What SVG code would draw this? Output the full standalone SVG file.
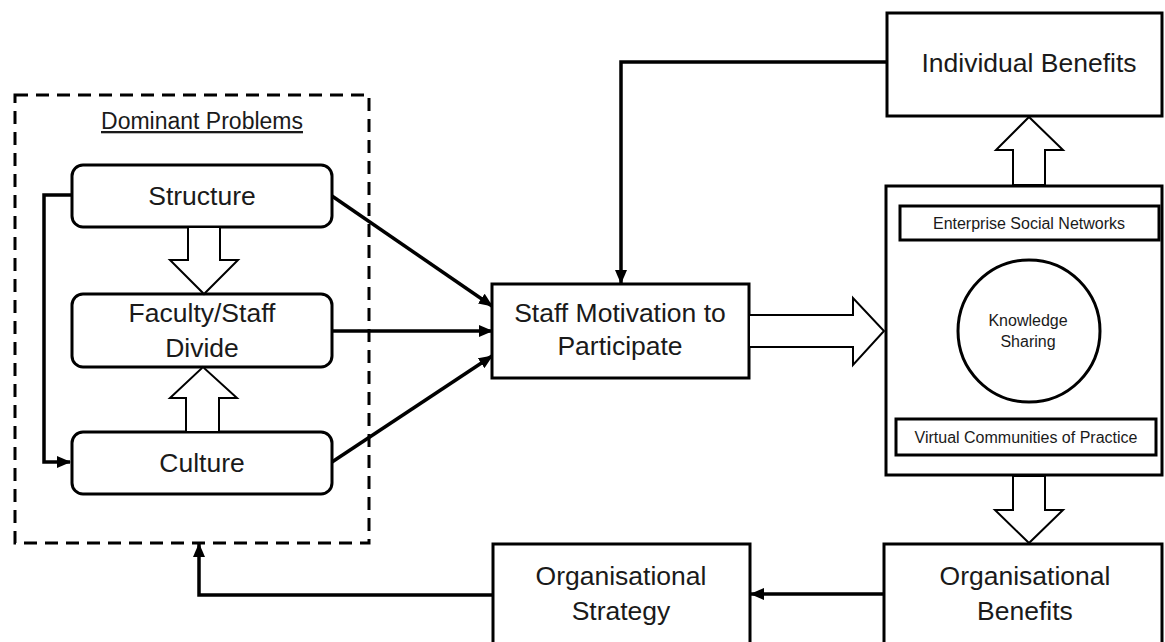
<svg xmlns="http://www.w3.org/2000/svg" width="1165" height="642" viewBox="0 0 1165 642">
<style>
  .box { fill: #fff; stroke: #000; stroke-width: 3; }
  .inner { fill: #fff; stroke: #000; stroke-width: 3; }
  .lbl { font-family: "Liberation Sans", Arial, sans-serif; font-size: 26.5px; fill: #1a1a1a; text-anchor: middle; }
  .sm { font-family: "Liberation Sans", Arial, sans-serif; font-size: 16px; fill: #1a1a1a; text-anchor: middle; }
  .con { fill: none; stroke: #000; stroke-width: 3.5; }
  .hollow { fill: #fff; stroke: #000; stroke-width: 2; stroke-linejoin: miter; }
</style>
<defs>
  <marker id="ah" markerUnits="userSpaceOnUse" markerWidth="14" markerHeight="12" refX="13" refY="6" orient="auto">
    <path d="M0,0 L14,6 L0,12 Z" fill="#000"/>
  </marker>
</defs>
<rect width="1165" height="642" fill="#fff"/>

<g id="dominant-problems">
  <rect x="15" y="95" width="354" height="448" fill="none" stroke="#000" stroke-width="3" stroke-dasharray="13 8"/>
  <text class="lbl" x="202" y="129" style="font-size:23px" text-decoration="underline">Dominant Problems</text>
</g>

<g id="structure">
  <rect class="box" x="72" y="165" width="260" height="62" rx="11"/>
  <text class="lbl" x="202" y="205">Structure</text>
</g>

<g id="faculty-staff-divide">
  <rect class="box" x="72" y="294" width="260" height="73" rx="11"/>
  <text class="lbl" x="202" y="322">Faculty/Staff</text>
  <text class="lbl" x="202" y="357">Divide</text>
</g>

<g id="culture">
  <rect class="box" x="72" y="432" width="260" height="62" rx="11"/>
  <text class="lbl" x="202" y="472">Culture</text>
</g>

<g id="staff-motivation">
  <rect class="box" x="492" y="284" width="257" height="94"/>
  <text class="lbl" x="620" y="322">Staff Motivation to</text>
  <text class="lbl" x="620" y="355">Participate</text>
</g>

<g id="individual-benefits">
  <rect class="box" x="887" y="13" width="275" height="103"/>
  <text class="lbl" x="1029" y="72">Individual Benefits</text>
</g>

<g id="knowledge-sharing-platform">
  <rect class="box" x="886" y="186" width="276" height="289"/>
  <rect class="inner" x="900" y="206" width="259" height="34"/>
  <text class="sm" x="1029" y="229">Enterprise Social Networks</text>
  <circle cx="1029" cy="331" r="71" fill="#fff" stroke="#000" stroke-width="3"/>
  <text class="sm" x="1028" y="326">Knowledge</text>
  <text class="sm" x="1028" y="347">Sharing</text>
  <rect class="inner" x="896" y="419" width="260" height="36"/>
  <text class="sm" x="1026" y="443">Virtual Communities of Practice</text>
</g>

<g id="organisational-benefits">
  <rect class="box" x="884" y="544" width="278" height="110"/>
  <text class="lbl" x="1025" y="585">Organisational</text>
  <text class="lbl" x="1025" y="620">Benefits</text>
</g>

<g id="organisational-strategy">
  <rect class="box" x="493" y="544" width="257" height="110"/>
  <text class="lbl" x="621" y="585">Organisational</text>
  <text class="lbl" x="621" y="620">Strategy</text>
</g>

<g id="connectors">
  <polyline class="con" points="72,195 44,195 44,462 70,462" marker-end="url(#ah)"/>
  <line class="con" x1="332" y1="196" x2="492" y2="306" marker-end="url(#ah)"/>
  <line class="con" x1="332" y1="331" x2="492" y2="331" marker-end="url(#ah)"/>
  <line class="con" x1="332" y1="462" x2="492" y2="356" marker-end="url(#ah)"/>
  <polyline class="con" points="887,62 621,62 621,283" marker-end="url(#ah)"/>
  <line class="con" x1="884" y1="594" x2="751" y2="594" marker-end="url(#ah)"/>
  <polyline class="con" points="493,595 199,595 199,544" marker-end="url(#ah)"/>

  <polygon class="hollow" points="188,227 220,227 220,260 238,260 204,294 170,260 188,260"/>
  <polygon class="hollow" points="186,432 219,432 219,398 237,398 203,367 170,398 186,398"/>
  <polygon class="hollow" points="749,315 853,315 853,298 884,331 853,365 853,347 749,347"/>
  <polygon class="hollow" points="1013,185 1045,185 1045,150 1063,150 1029,117 996,150 1013,150"/>
  <polygon class="hollow" points="1013,476 1045,476 1045,510 1063,510 1029,543 995,510 1013,510"/>
</g>
</svg>
